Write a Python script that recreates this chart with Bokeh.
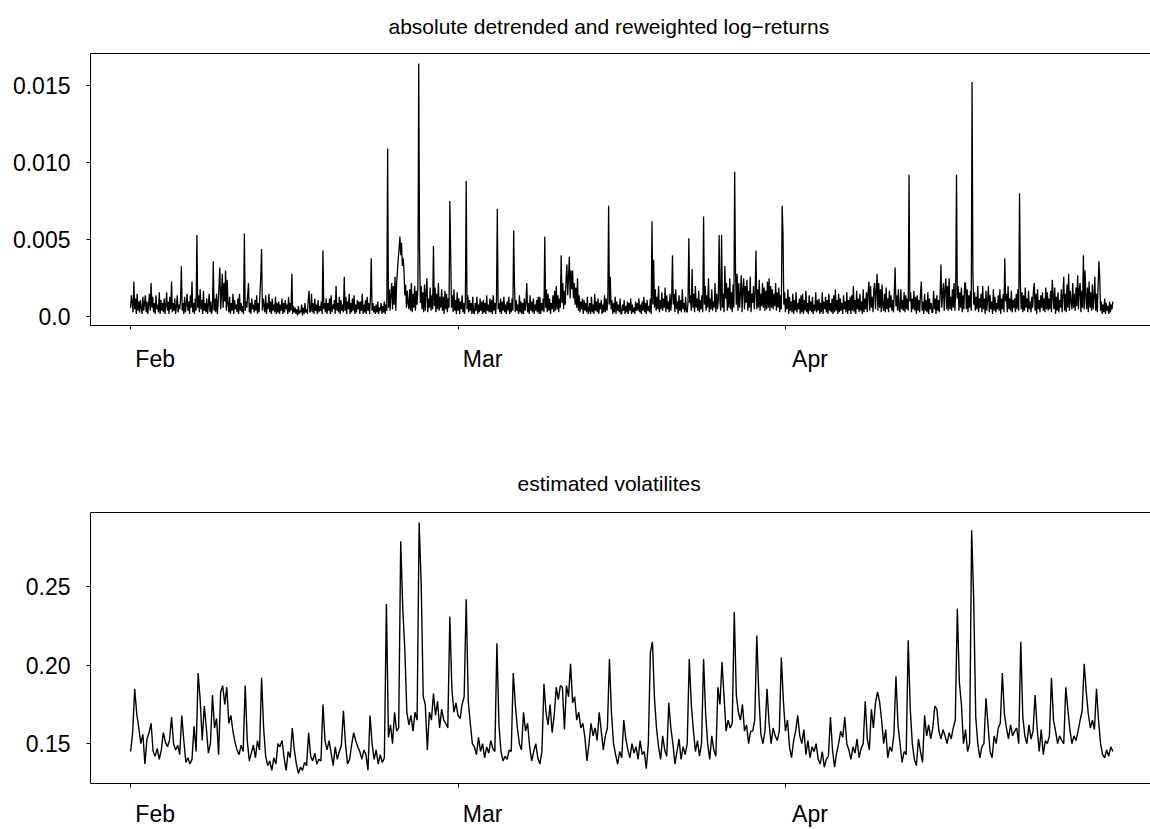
import numpy as np
from bokeh.plotting import figure
from bokeh.models import Range1d, FixedTicker, LinearAxis, Title
from bokeh.layouts import column
from bokeh.embed import file_html
from bokeh.resources import INLINE

# ---------------- data ----------------
# time axis: trading days since start of February
month_labels = ["Feb", "Mar", "Apr"]
month_start_day = [0, 20, 40]

# absolute detrended & reweighted log-returns, in units of 1e-4, 20 samples per day
ret_samples_per_day = 20
abs_ret_e4 = [
    6, 14, 9, 3, 23, 5, 12, 2, 15, 4, 10, 3, 11, 6, 2, 13, 4, 9, 14, 3,
    10, 2, 8, 15, 4, 22, 6, 13, 3, 9, 2, 14, 5, 8, 3, 16, 2, 11, 4, 9,
    3, 12, 2, 8, 16, 4, 10, 2, 13, 5, 23, 3, 9, 4, 12, 2, 7, 14, 3, 8,
    5, 11, 33, 4, 9, 2, 13, 3, 8, 15, 4, 10, 2, 14, 6, 23, 3, 9, 2, 12,
    4, 53, 6, 14, 3, 18, 5, 11, 2, 17, 4, 9, 3, 12, 2, 8, 15, 3, 10, 2,
    6, 36, 4, 12, 3, 15, 2, 9, 20, 32, 5, 14, 28, 6, 22, 10, 30, 4, 24, 8,
    3, 13, 2, 9, 4, 15, 2, 11, 5, 8, 3, 12, 2, 15, 4, 9, 3, 7, 2, 54,
    4, 10, 6, 14, 22, 3, 9, 2, 12, 5, 8, 3, 11, 4, 14, 2, 9, 3, 15, 26,
    44, 4, 12, 7, 3, 14, 2, 9, 5, 15, 3, 10, 2, 12, 4, 8, 3, 13, 2, 9,
    3, 10, 2, 8, 4, 12, 2, 9, 3, 11, 5, 8, 2, 13, 3, 9, 4, 28, 2, 7,
    3, 6, 2, 5, 1, 7, 2, 4, 3, 8, 1, 6, 2, 9, 3, 5, 2, 11, 17, 3,
    4, 15, 3, 9, 2, 12, 4, 8, 2, 11, 3, 7, 4, 10, 2, 43, 5, 9, 3, 12,
    2, 9, 4, 12, 2, 14, 3, 8, 5, 11, 2, 20, 4, 9, 3, 13, 2, 11, 4, 8,
    3, 26, 4, 13, 2, 10, 5, 15, 2, 9, 3, 12, 4, 14, 2, 8, 3, 11, 5, 10,
    2, 10, 4, 15, 2, 8, 3, 11, 2, 13, 4, 9, 2, 12, 38, 4, 9, 3, 7, 2,
    8, 3, 10, 2, 6, 4, 9, 2, 7, 3, 10, 2, 8, 4, 109, 6, 18, 4, 15, 22,
    5, 20, 8, 26, 4, 22, 30, 38, 44, 52, 40, 48, 33, 38, 30, 14, 21, 6, 17, 9,
    5, 18, 4, 22, 3, 15, 6, 20, 4, 17, 8, 19, 164, 43, 9, 20, 5, 16, 3, 21,
    4, 16, 25, 3, 12, 6, 19, 4, 14, 5, 46, 7, 19, 3, 15, 5, 22, 4, 13, 6,
    18, 4, 13, 2, 17, 5, 15, 3, 12, 6, 75, 42, 6, 14, 3, 18, 4, 11, 2, 16,
    4, 12, 2, 10, 5, 14, 3, 9, 2, 11, 88, 5, 14, 3, 11, 4, 9, 2, 13, 3,
    2, 9, 4, 13, 2, 8, 3, 12, 4, 10, 2, 11, 3, 9, 2, 14, 4, 8, 3, 12,
    3, 11, 2, 14, 4, 9, 2, 12, 70, 5, 9, 3, 12, 2, 10, 4, 13, 3, 8, 2,
    10, 4, 13, 2, 9, 3, 12, 4, 56, 20, 3, 11, 4, 8, 2, 14, 3, 10, 2, 9,
    2, 12, 4, 9, 22, 3, 9, 2, 14, 4, 10, 3, 12, 2, 8, 4, 11, 3, 13, 2,
    13, 2, 9, 4, 12, 3, 52, 6, 18, 3, 15, 4, 12, 2, 9, 5, 14, 3, 17, 4,
    20, 5, 14, 3, 12, 6, 40, 9, 22, 5, 17, 8, 24, 34, 14, 26, 39, 12, 30, 18,
    30, 12, 22, 8, 19, 6, 25, 4, 14, 3, 10, 5, 12, 2, 11, 4, 9, 3, 13, 2,
    4, 9, 2, 13, 3, 8, 2, 15, 4, 10, 3, 12, 2, 9, 5, 11, 2, 8, 3, 14,
    3, 12, 4, 10, 72, 8, 26, 5, 11, 2, 9, 3, 13, 2, 10, 4, 8, 3, 12, 2,
    2, 8, 4, 11, 2, 7, 3, 10, 2, 9, 4, 12, 2, 8, 3, 6, 2, 10, 4, 9,
    4, 12, 3, 8, 2, 10, 4, 13, 3, 9, 2, 11, 4, 7, 3, 12, 2, 62, 8, 37,
    6, 18, 4, 13, 5, 20, 3, 11, 5, 16, 4, 12, 6, 19, 3, 14, 5, 10, 3, 15,
    4, 12, 40, 8, 15, 3, 18, 5, 10, 2, 14, 4, 11, 3, 18, 5, 9, 3, 13, 4,
    3, 10, 51, 9, 14, 4, 31, 6, 15, 3, 20, 6, 12, 4, 17, 3, 11, 5, 14, 3,
    65, 8, 20, 4, 14, 6, 25, 3, 12, 5, 18, 4, 10, 6, 22, 3, 15, 5, 11, 53,
    10, 4, 53, 6, 15, 3, 33, 12, 22, 4, 19, 6, 25, 5, 16, 3, 21, 6, 94, 30,
    8, 28, 4, 22, 6, 15, 27, 3, 18, 25, 5, 20, 9, 24, 4, 17, 6, 26, 3, 15,
    9, 20, 5, 16, 43, 5, 18, 6, 24, 4, 15, 7, 22, 6, 19, 4, 17, 5, 23, 6,
    25, 4, 20, 6, 18, 5, 15, 7, 22, 4, 16, 6, 19, 3, 14, 5, 72, 55, 8, 16,
    3, 12, 5, 18, 2, 13, 4, 10, 3, 15, 2, 11, 4, 16, 3, 9, 5, 12, 2, 14,
    3, 15, 2, 11, 4, 17, 3, 9, 2, 14, 4, 10, 3, 13, 2, 8, 4, 16, 3, 11,
    4, 12, 2, 9, 3, 16, 2, 10, 5, 13, 3, 11, 2, 15, 4, 9, 3, 12, 2, 14,
    3, 18, 4, 11, 2, 15, 3, 12, 4, 9, 2, 14, 5, 10, 3, 16, 2, 11, 4, 13,
    2, 14, 4, 20, 3, 11, 2, 17, 5, 12, 3, 15, 4, 10, 2, 18, 3, 12, 5, 16,
    3, 16, 23, 4, 20, 6, 13, 3, 18, 22, 5, 17, 28, 4, 22, 6, 18, 3, 21, 7,
    4, 15, 3, 19, 5, 12, 3, 17, 6, 14, 4, 11, 3, 16, 32, 7, 14, 4, 18, 5,
    3, 18, 5, 11, 4, 16, 3, 14, 5, 12, 4, 92, 10, 16, 3, 12, 5, 17, 4, 13,
    2, 14, 4, 11, 3, 15, 23, 4, 10, 2, 15, 4, 11, 3, 16, 2, 12, 5, 9, 3,
    3, 17, 5, 12, 2, 14, 4, 11, 3, 15, 34, 6, 14, 22, 4, 18, 25, 5, 20, 4,
    25, 5, 13, 4, 18, 6, 22, 4, 15, 92, 12, 20, 4, 16, 6, 19, 3, 14, 5, 22,
    22, 5, 18, 3, 14, 6, 17, 4, 152, 30, 8, 16, 4, 13, 5, 20, 3, 12, 6, 15,
    3, 20, 5, 12, 2, 17, 4, 11, 20, 3, 14, 5, 10, 2, 18, 4, 13, 3, 9, 5,
    14, 4, 18, 2, 12, 5, 15, 3, 38, 10, 15, 3, 20, 5, 12, 4, 17, 3, 11, 6,
    12, 3, 15, 5, 18, 4, 80, 22, 5, 16, 3, 14, 4, 19, 6, 12, 3, 17, 5, 10,
    3, 13, 6, 17, 22, 4, 15, 2, 18, 5, 11, 3, 14, 6, 16, 4, 12, 3, 19, 5,
    16, 4, 12, 5, 17, 3, 24, 14, 5, 19, 2, 13, 4, 16, 3, 11, 6, 18, 3, 14,
    26, 4, 15, 3, 21, 6, 28, 4, 17, 10, 5, 22, 6, 15, 4, 19, 7, 27, 5, 18,
    22, 3, 17, 6, 40, 5, 30, 14, 5, 19, 3, 23, 6, 16, 4, 21, 5, 13, 26, 4,
    15, 3, 20, 36, 25, 4, 10, 2, 8, 3, 12, 2, 9, 4, 7, 2, 10, 3, 8, 5,
    10,
]

# estimated volatilities, in units of 1e-3, 8 samples per day
vol_samples_per_day = 8
vol_e3 = [
    145, 157, 185, 169, 160, 150, 156, 137,
    153, 157, 163, 145, 142, 147, 140, 146,
    157, 151, 148, 152, 167, 150, 146, 149,
    143, 168, 152, 138, 141, 137, 140, 161,
    145, 195, 178, 152, 174, 160, 144, 150,
    181, 160, 166, 143, 183, 187, 175, 186,
    163, 168, 158, 151, 146, 143, 149, 145,
    187, 152, 139, 144, 149, 141, 152, 146,
    192, 160, 142, 136, 139, 133, 141, 137,
    150, 148, 152, 141, 133, 145, 141, 160,
    146, 137, 131, 135, 133, 138, 136, 157,
    142, 139, 144, 137, 140, 139, 175, 152,
    146, 152, 144, 136, 148, 140, 145, 149,
    171, 150, 137, 140, 149, 157, 152, 148,
    145, 140, 146, 143, 133, 168, 150, 140,
    146, 137, 143, 138, 141, 239, 154, 162,
    150, 170, 158, 160, 279, 236, 210, 170,
    162, 168, 158, 170, 165, 291, 252, 180,
    175, 146, 170, 165, 182, 168, 177, 160,
    172, 165, 163, 160, 231, 185, 170, 176,
    168, 166, 175, 180, 242, 177, 163, 150,
    148, 143, 154, 145, 150, 141, 148, 144,
    152, 147, 145, 214, 162, 145, 139, 142,
    140, 146, 145, 195, 175, 160, 150, 146,
    170, 158, 163, 148, 139, 145, 150, 141,
    137, 145, 188, 170, 162, 175, 157, 168,
    186, 178, 187, 186, 159, 187, 180, 201,
    176, 180, 165, 170, 160, 163, 154, 139,
    150, 163, 155, 160, 152, 170, 158, 146,
    155, 160, 204, 169, 150, 143, 137, 145,
    141, 165, 153, 146, 141, 150, 144, 148,
    140, 152, 143, 145, 134, 150, 208, 215,
    179, 160, 148, 140, 155, 146, 142, 176,
    160, 150, 137, 145, 153, 140, 148, 143,
    150, 204, 175, 159, 145, 152, 142, 150,
    204, 169, 150, 140, 155, 146, 142, 186,
    175, 202, 180, 158, 165, 160, 163, 234,
    181, 170, 165, 175, 158, 162, 150, 158,
    158, 165, 219, 181, 156, 150, 158, 185,
    163, 150, 160, 155, 152, 158, 205, 177,
    158, 165, 148, 141, 152, 158, 168, 155,
    150, 159, 143, 152, 141, 148, 145, 150,
    140, 137, 145, 135, 140, 142, 167, 146,
    135, 144, 150, 158, 154, 167, 150, 146,
    140, 148, 144, 153, 141, 147, 150, 177,
    153, 146, 172, 160, 176, 183, 177, 165,
    150, 159, 141, 148, 145, 156, 193, 162,
    150, 138, 145, 143, 216, 172, 150, 140,
    136, 153, 145, 138, 168, 155, 162, 153,
    160, 174, 172, 158, 153, 159, 155, 150,
    157, 153, 160, 165, 236, 189, 175, 150,
    159, 145, 150, 286, 242, 167, 150, 141,
    148, 150, 179, 162, 145, 141, 155, 150,
    160, 163, 195, 169, 160, 153, 162, 155,
    158, 160, 150, 215, 167, 155, 150, 162,
    153, 158, 181, 160, 145, 159, 143, 152,
    150, 155, 192, 165, 158, 150, 155, 152,
    150, 186, 172, 159, 150, 155, 152, 158,
    165, 171, 201, 183, 169, 160, 165, 159,
    185, 165, 150, 143, 141, 146, 142, 148,
    145,
]

ret_ticks = [0.0, 0.005, 0.010, 0.015]
ret_tick_labels = ["0.0", "0.005", "0.010", "0.015"]
vol_ticks = [0.15, 0.20, 0.25]
vol_tick_labels = ["0.15", "0.20", "0.25"]

title_top = "absolute detrended and reweighted log\u2212returns"
title_bottom = "estimated volatilites"

# ---------------- plotting ----------------
FONT = "Liberation Sans"
LABEL_SHIFT_DAYS = 1.5   # month names are printed a little to the right of their tick


def make_panel(t, y, title, title_offset, title_valign, title_standoff, ticks, tick_labels,
               height, border_top, border_bottom, lw, label_standoff):
    pad = 0.04 * (y.max() - y.min())
    p = figure(width=1150, height=height, output_backend="svg", toolbar_location=None,
               x_range=Range1d(-2.45, 62.3),
               y_range=Range1d(y.min() - pad, y.max() + pad),
               min_border_left=90, min_border_right=0,
               min_border_top=border_top, min_border_bottom=border_bottom)
    p.background_fill_color = "white"
    p.border_fill_color = "white"
    p.outline_line_color = None
    p.grid.visible = False

    p.line(t, y, line_color="black", line_width=lw)

    # left axis
    ya = p.left[0]
    ya.ticker = FixedTicker(ticks=ticks)
    ya.major_label_overrides = {tk: lb for tk, lb in zip(ticks, tick_labels)}
    ya.major_tick_in = 0
    ya.major_tick_out = 4
    ya.minor_tick_line_color = None
    ya.axis_line_color = "black"
    ya.major_tick_line_color = "black"
    ya.major_label_text_font = FONT
    ya.major_label_text_font_size = "23px"
    ya.major_label_text_color = "black"
    ya.major_label_standoff = 16

    # bottom axis: box line + month ticks (no labels)
    xa = p.below[0]
    xa.ticker = FixedTicker(ticks=month_start_day)
    xa.major_label_overrides = {d: "" for d in month_start_day}
    xa.major_tick_in = 0
    xa.major_tick_out = 4
    xa.minor_tick_line_color = None
    xa.axis_line_color = "black"
    xa.major_tick_line_color = "black"
    xa.major_label_standoff = 0
    xa.major_label_text_font_size = "1px"

    # month names, printed slightly right of the ticks
    label_pos = [d + LABEL_SHIFT_DAYS for d in month_start_day]
    la = LinearAxis(ticker=FixedTicker(ticks=label_pos),
                    major_label_overrides={pos: m for pos, m in zip(label_pos, month_labels)},
                    axis_line_color=None, major_tick_line_color=None,
                    minor_tick_line_color=None, major_tick_in=0, major_tick_out=0,
                    major_label_standoff=label_standoff, major_label_text_font=FONT,
                    major_label_text_font_size="23px", major_label_text_color="black")
    p.add_layout(la, "below")

    # top border line of the box
    top = LinearAxis(ticker=FixedTicker(ticks=[]), major_tick_line_color=None,
                     minor_tick_line_color=None, major_label_text_font_size="0px",
                     axis_line_color="black", major_tick_out=0, major_tick_in=0,
                     major_label_standoff=0)
    p.add_layout(top, "above")

    p.title = Title(text=title, align="left", offset=title_offset, text_font=FONT,
                    text_font_size="21px", text_font_style="normal",
                    vertical_align=title_valign,
                    text_color="black", standoff=title_standoff)
    return p


t_ret = np.arange(len(abs_ret_e4)) / ret_samples_per_day
y_ret = np.array(abs_ret_e4, dtype=float) / 1e4
t_vol = np.arange(len(vol_e3)) / vol_samples_per_day
y_vol = np.array(vol_e3, dtype=float) / 1e3

p1 = make_panel(t_ret, y_ret, title_top, 298, "top", 28, ret_ticks, ret_tick_labels,
                440, 53, 115, 1.3, 16)
p2 = make_panel(t_vol, y_vol, title_bottom, 427, "bottom", 36, vol_ticks, vol_tick_labels,
                389, 72, 46, 1.4, 13)

layout = column(p1, p2)
open("out.html", "w").write(file_html(layout, INLINE))
